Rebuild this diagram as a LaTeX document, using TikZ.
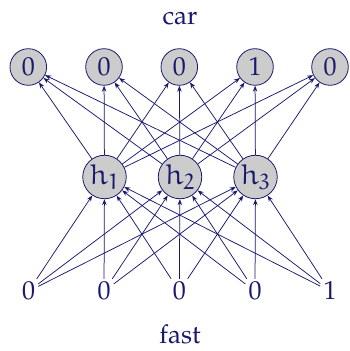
\documentclass[tikz,border=0pt]{standalone}
\usepackage[T1]{fontenc}
\usepackage{mathpazo}
\DeclareMathAlphabet{\mathEu}{U}{eur}{m}{n}
\usetikzlibrary{arrows.meta}
\definecolor{navy}{RGB}{25,25,110}
\begin{document}
\begin{tikzpicture}[x=1pt,y=1pt,
  every node/.style={text=navy, font=\fontsize{26}{30}\selectfont},
  outn/.style={circle, draw=navy, fill=black!20, line width=0.8pt, minimum size=36.6pt, inner sep=0pt},
  hidn/.style={circle, draw=navy, fill=black!20, line width=0.8pt, minimum size=43.5pt, inner sep=0pt, font=\fontsize{29}{32}\selectfont},
  inn/.style={inner sep=3pt},
  lbl/.style={inner sep=0pt, anchor=base},
  conn/.style={draw=navy, line width=0.75pt, -{Stealth[length=6pt,width=4.5pt]}}
]
\useasboundingbox (0,0) rectangle (349,351);
\node[lbl] (car) at (180,326) {car};
\node[lbl] (fast) at (180,7) {fast};
\foreach \i/\x/\v in {1/28.3/0, 2/104/0, 3/179.3/0, 4/255/1, 5/330/0} {
  \node[outn] (o\i) at (\x,284) {\v};
}
\foreach \i/\x in {1/104.5, 2/180, 3/255.5} {
  \node[hidn] (h\i) at (\x,174) {$\mathEu{h}_{\mathEu{\i}}$};
}
\foreach \i/\x/\v in {1/28.5/0, 2/104/0, 3/179.3/0, 4/255/0, 5/330/1} {
  \node[inn, anchor=base] (x\i) at (\x,51) {\v};
}
\foreach \i in {1,...,5} {
  \foreach \j in {1,2,3} {
    \draw[conn] (x\i) -- (h\j);
    \draw[conn] (h\j) -- (o\i);
  }
}
\end{tikzpicture}
\end{document}
